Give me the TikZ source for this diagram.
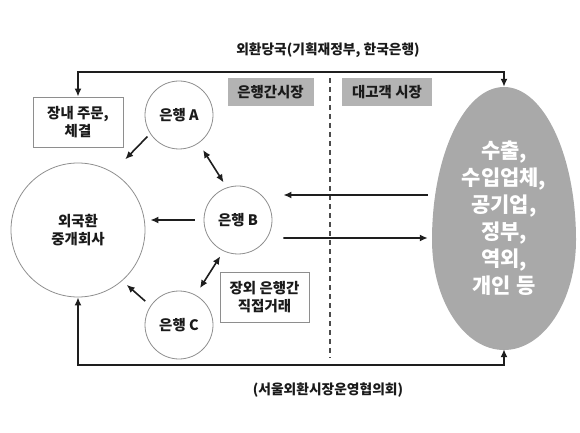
\documentclass[tikz,border=0pt]{standalone}
\usepackage{fontspec}
\setmainfont{Noto Sans CJK KR}
\usetikzlibrary{arrows.meta,shapes.geometric}
\definecolor{lblfill}{HTML}{B3B3B3}
\definecolor{custfill}{HTML}{A9A9A9}
\definecolor{circline}{HTML}{8E8E8E}
\definecolor{connline}{HTML}{1E1E1E}
\definecolor{txt}{HTML}{1A1A1A}
\tikzset{
  bank/.style={circle, draw=circline, line width=0.8bp, minimum size=68bp, inner sep=0pt,
    font=\bfseries\fontsize{14.5}{17.5}\selectfont, text=txt, align=center},
  bigcirc/.style={bank, minimum size=134bp},
  infobox/.style={rectangle, draw=circline, line width=0.8bp, inner sep=0pt,
    minimum width=90bp, minimum height=50bp, align=center,
    font=\bfseries\fontsize{14.5}{18}\selectfont, text=txt},
  marketlbl/.style={rectangle, fill=lblfill, inner sep=0pt, minimum width=86bp, minimum height=28bp,
    font=\bfseries\fontsize{14.5}{16}\selectfont, text=txt},
  conn/.style={draw=connline, line width=1.6bp},
  caption/.style={font=\bfseries\fontsize{13.8}{16}\selectfont, text=txt},
  >={Latex[length=8bp,width=7bp]}
}
\begin{document}
\begin{tikzpicture}[x=1bp,y=-1bp]
\useasboundingbox (0,0) rectangle (580,433);
% customer egg
\fill[custfill] (432,240) arc[start angle=180, end angle=0, x radius=72bp, y radius=153bp]
  arc[start angle=0, end angle=-180, x radius=72bp, y radius=110bp] -- cycle;
\node[ellipse, minimum width=144bp, minimum height=262bp, inner sep=0pt, align=center,
  font=\bfseries\fontsize{21}{27}\selectfont, text=white] (cust) at (504,218)
  {수출,\\수입업체,\\공기업,\\정부,\\역외,\\개인 등};
% nodes
\node[bigcirc] (broker) at (78,230) {외국환\\중개회사};
\node[bank] (A) at (179,115) {은행 A};
\node[bank] (B) at (238,220) {은행 B};
\node[bank] (C) at (179,325) {은행 C};
\node[infobox] (jang) at (78,122) {장내 주문,\\체결};
\node[infobox, minimum width=89bp] (jangoe) at (264.5,297) {장외 은행간\\직접거래};
\node[marketlbl] (inter) at (270.5,92) {은행간시장};
\node[marketlbl, minimum width=90bp] (cli) at (387,92) {대고객 시장};
\node[caption] (auth) at (328,50) {외환당국(기획재정부, 한국은행)};
\node[caption] (seoul) at (328,390) {(서울외환시장운영협의회)};
% divider
\coordinate (divtop) at (330,78);
\coordinate (divbot) at (330,358);
\draw[connline!80, line width=1.1bp, dash pattern=on 5bp off 4bp] (divtop) -- (divbot);
% long connectors
\coordinate (topline) at (300,72);
\coordinate (botline) at (300,365);
\draw[conn,<->] (jang.north) |- (topline) -| (cust.north);
\draw[conn,<->] (broker.south) |- (botline) -| (cust.south);
% bank connectors
\draw[conn,->, shorten <=4bp, shorten >=18bp] (A.213) -- (broker.59);
\draw[conn,<->, shorten <=8bp, shorten >=6bp] (A.-55) -- (B.109);
\draw[conn,->, shorten <=9bp, shorten >=5bp] (B.west) -- (broker.east |- B.west);
\draw[conn,<->, shorten <=6bp, shorten >=8bp] (B.245) -- (C.61);
\draw[conn,->, shorten <=7bp, shorten >=6bp] (C.146) -- (broker.-49);
% customer flows
\draw[conn,->, shorten <=4bp, shorten >=11bp] ([yshift=23bp]cust.west) -- ([yshift=25bp]B.east);
\draw[conn,->, shorten <=11bp, shorten >=4bp] ([yshift=-18bp]B.east) -- ([yshift=-20bp]cust.west);
\end{tikzpicture}
\end{document}
